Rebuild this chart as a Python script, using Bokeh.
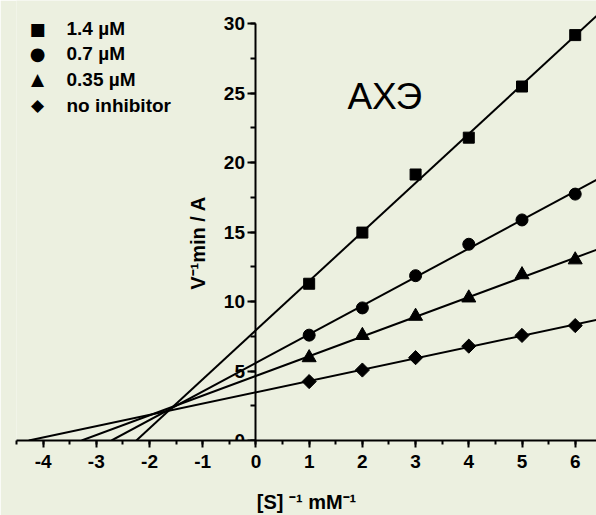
import numpy as np
from bokeh.plotting import figure
from bokeh.models import Range1d, SingleIntervalTicker, Label, PrintfTickFormatter
from bokeh.embed import file_html
from bokeh.resources import INLINE

# ---- data ----
s_inv = [1, 2, 3, 4, 5, 6]                       # [S]^-1, mM^-1
v_14 = [11.28, 14.96, 19.14, 21.79, 25.47, 29.17]  # 1.4 µM
v_07 = [7.58, 9.54, 11.86, 14.12, 15.87, 17.73]    # 0.7 µM
v_035 = [5.96, 7.56, 8.94, 10.26, 11.93, 13.00]    # 0.35 µM
v_none = [4.24, 5.07, 5.96, 6.79, 7.56, 8.27]      # no inhibitor
series_labels = ["1.4 µM", "0.7 µM", "0.35 µM", "no inhibitor"]
legend_symbols = ["\u25A0", "\u25CF", "\u25B2", "\u25C6"]
x_title = "[S] \u207b\u00b9 mM\u207b\u00b9"
y_title = "V\u207b\u00b9min / A"
x_ticks_interval = 1
y_ticks_interval = 5

BG = "#ECF0E0"
FONT = "Liberation Sans"

X_START, X_END = -4.5, 6.40
Y_START, Y_END = 0, 31.66

p = figure(width=596, height=515,
           x_range=Range1d(X_START, X_END), y_range=Range1d(Y_START, Y_END),
           output_backend="svg", toolbar_location=None,
           min_border_left=16, min_border_right=0, min_border_top=0,
           min_border_bottom=73)
p.background_fill_color = BG
p.border_fill_color = BG
p.outline_line_color = None
p.grid.visible = False


def style_axis(ax, tick_out, minor_out, standoff):
    ax.axis_line_color = "black"
    ax.major_tick_line_color = "black"
    ax.minor_tick_line_color = "black"
    ax.axis_line_width = 2
    ax.major_tick_line_width = 2
    ax.minor_tick_line_width = 2
    ax.major_tick_out = tick_out
    ax.major_tick_in = 0
    ax.minor_tick_out = minor_out
    ax.minor_tick_in = 0
    ax.major_label_standoff = standoff
    ax.formatter = PrintfTickFormatter(format="%d")
    ax.major_label_text_font = FONT
    ax.major_label_text_font_style = "bold"
    ax.major_label_text_font_size = "19px"
    ax.major_label_text_color = "black"


# x axis (at y = 0, bottom of frame)
xa = p.xaxis[0]
xa.ticker = SingleIntervalTicker(interval=x_ticks_interval, num_minor_ticks=2)
style_axis(xa, 7, 4, 7)
xa.axis_label = x_title
xa.axis_label_text_font = FONT
xa.axis_label_text_font_style = "bold"
xa.axis_label_text_font_size = "20px"
xa.axis_label_text_color = "black"
xa.axis_label_standoff = 20

# y axis (fixed at x = 0)
ya = p.yaxis[0]
ya.fixed_location = 0
ya.bounds = (0, 30)
ya.ticker = SingleIntervalTicker(interval=y_ticks_interval, num_minor_ticks=2)
style_axis(ya, 8, 5, 3)

# y axis title (screen units from the frame's bottom-left)
p.add_layout(Label(x=181, y=197.5, x_units="screen", y_units="screen",
                   text=y_title, angle=np.pi / 2, text_align="center",
                   text_baseline="middle", text_font=FONT,
                   text_font_style="bold", text_font_size="20px",
                   text_color="black"))

# regression lines and points
all_series = [v_14, v_07, v_035, v_none]
marker_specs = [("square", 11, 0.0), ("circle", 12, 0.0),
                ("triangle", 14, 0.0), ("square", 10, np.pi / 4)]
for ys, (mk, sz, ang) in zip(all_series, marker_specs):
    k, b = np.polyfit(s_inv, ys, 1)
    x0 = float(-b / k)
    p.line([x0, X_END], [0.0, float(k * X_END + b)],
           line_color="black", line_width=2)
    p.scatter(s_inv, ys, marker=mk, size=sz, angle=ang,
              fill_color="black", line_color="black")

# legend (symbols + labels, screen units from the frame's bottom-left)
row_y = [412.0, 387.0, 361.5, 335.5]
sym_sizes = ["17px", "18px", "17px", "17px"]
for sym, lab, ry, fs in zip(legend_symbols, series_labels, row_y, sym_sizes):
    p.add_layout(Label(x=21, y=ry, x_units="screen", y_units="screen",
                       text=sym, text_align="center", text_baseline="middle",
                       text_font="DejaVu Sans", text_font_size=fs,
                       text_color="black"))
    p.add_layout(Label(x=50, y=ry, x_units="screen", y_units="screen",
                       text=lab, text_align="left", text_baseline="middle",
                       text_font=FONT, text_font_style="bold",
                       text_font_size="19px", text_color="black"))

p.add_layout(Label(x=2.42, y=24.75, text="АХЭ", text_align="center",
                   text_baseline="alphabetic", text_font=FONT,
                   text_font_size="37px", text_color="black"))

open("out.html", "w").write(file_html(p, INLINE))
